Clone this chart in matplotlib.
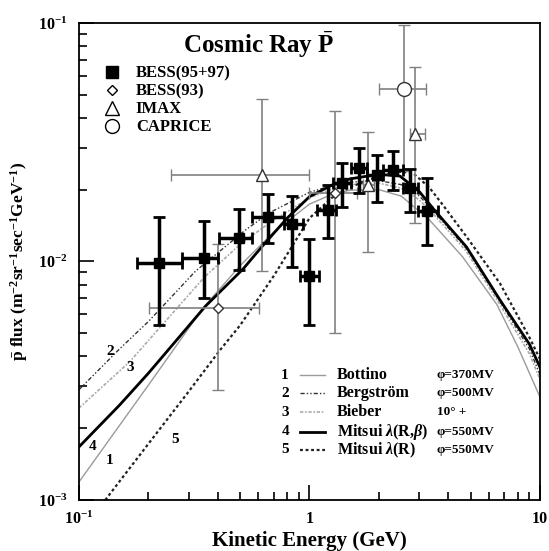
import numpy as np
import matplotlib
matplotlib.use("Agg")
import matplotlib.pyplot as plt
from matplotlib.lines import Line2D
from matplotlib.ticker import FixedLocator, FixedFormatter, LogLocator, NullFormatter

plt.rcParams["font.family"] = ["Liberation Serif", "DejaVu Serif"]
plt.rcParams["font.weight"] = "bold"
plt.rcParams["mathtext.fontset"] = "custom"
plt.rcParams["mathtext.rm"] = "Liberation Serif:bold"
plt.rcParams["mathtext.bf"] = "Liberation Serif:bold"
plt.rcParams["mathtext.it"] = "Liberation Serif:bold:italic"

# BESS(95+97)
bess_x = np.array([0.222, 0.35, 0.494, 0.663, 0.842, 1.0, 1.207, 1.379, 1.645, 1.957, 2.296, 2.73, 3.225])
bess_xlo = np.array([0.179, 0.28, 0.405, 0.561, 0.777, 0.912, 1.08, 1.27, 1.52, 1.77, 2.08, 2.55, 2.96])
bess_xhi = np.array([0.28, 0.40, 0.561, 0.777, 0.937, 1.10, 1.30, 1.52, 1.77, 2.08, 2.55, 2.96, 3.62])
bess_y = np.array([0.0099, 0.0103, 0.0126, 0.0154, 0.0144, 0.0087, 0.0165, 0.0214, 0.0246, 0.0231, 0.0242, 0.0203, 0.0163])
bess_ylo = np.array([0.0054, 0.0070, 0.0092, 0.0119, 0.0095, 0.0054, 0.0125, 0.0170, 0.0194, 0.0178, 0.0199, 0.0162, 0.0117])
bess_yhi = np.array([0.0153, 0.0148, 0.0166, 0.0191, 0.0189, 0.0124, 0.0209, 0.0260, 0.0298, 0.0280, 0.0290, 0.0245, 0.0223])

# BESS(93)
b93_x = np.array([0.402, 1.29])
b93_xlo = np.array([0.201, 1.0])
b93_xhi = np.array([0.604, 1.6])
b93_y = np.array([0.0064, 0.0194])
b93_ylo = np.array([0.0029, 0.0050])
b93_yhi = np.array([0.0118, 0.0429])

# IMAX
imax_x = np.array([0.623, 1.80, 2.87])
imax_xlo = np.array([0.25, 1.70, 2.73])
imax_xhi = np.array([1.0, 1.90, 3.17])
imax_y = np.array([0.0231, 0.0209, 0.0343])
imax_ylo = np.array([0.0091, 0.0110, 0.0145])
imax_yhi = np.array([0.048, 0.035, 0.0656])

# CAPRICE
cap_x = np.array([2.57])
cap_xlo = np.array([2.0])
cap_xhi = np.array([3.19])
cap_y = np.array([0.0528])
cap_ylo = np.array([0.024])
cap_yhi = np.array([0.098])

# model curves
c1_x = [0.1, 0.2, 0.346, 0.5, 0.7, 1.0, 1.25, 1.5, 2.0, 2.5, 3.3, 4.6, 6.5, 8.0, 10]
c1_y = [0.00119, 0.00303, 0.0064, 0.0096, 0.0133, 0.0174, 0.0191, 0.0199, 0.0200, 0.0188, 0.0150, 0.0105, 0.0066, 0.0044, 0.0027]
c2_x = [0.1, 0.15, 0.2, 0.32, 0.53, 0.67, 1.0, 1.25, 1.5, 2.0, 2.5, 3.0, 3.45, 4.8, 6.7, 9.0, 10]
c2_y = [0.0029, 0.0043, 0.0056, 0.0091, 0.0136, 0.0160, 0.0195, 0.0208, 0.0215, 0.0218, 0.0210, 0.0188, 0.0163, 0.0113, 0.0068, 0.0043, 0.00335]
c3_x = [0.1, 0.166, 0.35, 0.5, 0.67, 1.0, 1.25, 1.5, 2.0, 2.5, 3.0, 3.45, 4.8, 6.7, 9.0, 10]
c3_y = [0.00243, 0.0038, 0.0086, 0.0118, 0.0145, 0.0185, 0.0201, 0.0210, 0.0213, 0.0203, 0.0181, 0.0158, 0.0110, 0.0066, 0.0041, 0.0032]
c4_x = [0.1, 0.15, 0.2, 0.354, 0.515, 0.62, 0.8, 1.0, 1.25, 1.5, 2.0, 2.47, 3.0, 3.45, 4.8, 6.7, 9.0, 10]
c4_y = [0.00167, 0.0025, 0.0034, 0.0065, 0.0093, 0.0115, 0.0152, 0.0187, 0.0209, 0.0222, 0.0232, 0.0228, 0.0196, 0.0166, 0.0115, 0.0069, 0.0045, 0.0036]
c5_x = [0.13, 0.2, 0.3, 0.409, 0.5, 0.7, 1.0, 1.25, 1.5, 2.0, 2.5, 2.82, 3.3, 3.8, 4.8, 6.7, 9.0, 10]
c5_y = [0.001, 0.00172, 0.00286, 0.00425, 0.0054, 0.0087, 0.0152, 0.0185, 0.0205, 0.0228, 0.0238, 0.0234, 0.0205, 0.0172, 0.0127, 0.0081, 0.0048, 0.0039]

curve_names = ["Bottino", "Bergström", "Bieber", r"Mitsui $\lambda$(R,$\beta$)", r"Mitsui $\lambda$(R)"]
curve_phi = ["φ=370MV", "φ=500MV", "10° +", "φ=550MV", "φ=550MV"]
curve_styles = [
    dict(color="#9a9a9a", lw=1.0, ls="-"),
    dict(color="#333333", lw=1.0, ls=(0, (3, 1.5, 1, 1.5, 1, 1.5))),
    dict(color="#aaaaaa", lw=1.2, ls=(0, (2, 1, 1, 1))),
    dict(color="black", lw=2.0, ls="-"),
    dict(color="#222222", lw=1.6, ls=(0, (1.3, 1.2))),
]

fig = plt.figure(figsize=(5.49, 5.51), dpi=100)
ax = fig.add_axes([0.1439, 0.0926, 0.8397, 0.8657])
ax.set_xscale("log")
ax.set_yscale("log")
ax.set_xlim(0.1, 10)
ax.set_ylim(1e-3, 1e-1)

for (cx, cy), st in zip([(c1_x, c1_y), (c2_x, c2_y), (c3_x, c3_y), (c4_x, c4_y), (c5_x, c5_y)], curve_styles):
    ax.plot(cx, cy, zorder=2, **st)

def errs(v, lo, hi):
    return [v - lo, hi - v]

grey = "#808080"
ax.errorbar(b93_x, b93_y, xerr=errs(b93_x, b93_xlo, b93_xhi), yerr=errs(b93_y, b93_ylo, b93_yhi),
            fmt="D", ms=5, mfc="white", mec="#333333", mew=1, ecolor=grey, elinewidth=1.2,
            capsize=4, capthick=1.2, zorder=3)
ax.errorbar(imax_x, imax_y, xerr=errs(imax_x, imax_xlo, imax_xhi), yerr=errs(imax_y, imax_ylo, imax_yhi),
            fmt="^", ms=9, mfc="white", mec="#333333", mew=1, ecolor=grey, elinewidth=1.2,
            capsize=4, capthick=1.2, zorder=3)
ax.errorbar(cap_x, cap_y, xerr=errs(cap_x, cap_xlo, cap_xhi), yerr=errs(cap_y, cap_ylo, cap_yhi),
            fmt="o", ms=10, mfc="white", mec="#333333", mew=1, ecolor=grey, elinewidth=1.2,
            capsize=4, capthick=1.2, zorder=3)
ax.errorbar(bess_x, bess_y, xerr=errs(bess_x, bess_xlo, bess_xhi), yerr=errs(bess_y, bess_ylo, bess_yhi),
            fmt="s", ms=7, color="black", ecolor="black", elinewidth=2.5,
            capsize=4, capthick=2, zorder=4)

# marker legend (upper left)
handles = [
    Line2D([], [], ls="none", marker="s", ms=8, color="black"),
    Line2D([], [], ls="none", marker="D", ms=5, mfc="white", mec="black"),
    Line2D([], [], ls="none", marker="^", ms=10, mfc="white", mec="black"),
    Line2D([], [], ls="none", marker="o", ms=10, mfc="white", mec="black"),
]
ax.legend(handles, ["BESS(95+97)", "BESS(93)", "IMAX", "CAPRICE"], loc="upper left",
          bbox_to_anchor=(0.04, 0.925), frameon=False, handlelength=1.0,
          handletextpad=0.9, labelspacing=0.12, borderaxespad=0,
          prop=dict(family="Liberation Serif", weight="bold", size=12))

ax.text(0.39, 0.955, r"Cosmic Ray $\bar{\mathrm{P}}$", transform=ax.transAxes, ha="center", va="center",
        fontsize=18, fontweight="bold")

# curve legend (lower right)
rows_y = [0.262, 0.224, 0.184, 0.143, 0.105]
for i, (name, phi, st, ry) in enumerate(zip(curve_names, curve_phi, curve_styles, rows_y)):
    ax.text(0.447, ry, str(i + 1), transform=ax.transAxes, ha="center", va="center", fontsize=11)
    ax.plot([0.479, 0.534], [ry, ry], transform=ax.transAxes, **st)
    ax.text(0.559, ry, name, transform=ax.transAxes, ha="left", va="center", fontsize=11.5)
    ax.text(0.776, ry, phi, transform=ax.transAxes, ha="left", va="center", fontsize=9.5)

# curve number labels
num_pos = [(0.136, 0.00147), (0.136, 0.00418), (0.166, 0.00358), (0.115, 0.00167), (0.261, 0.00179)]
for i, (nx, ny) in enumerate(num_pos):
    ax.text(nx, ny, str(i + 1), ha="center", va="center", fontsize=11)

ax.xaxis.set_major_locator(FixedLocator([0.1, 1, 10]))
ax.xaxis.set_major_formatter(FixedFormatter(["10$^{-1}$", "1", "10"]))
ax.xaxis.set_minor_locator(LogLocator(base=10, subs=np.arange(2, 10)))
ax.xaxis.set_minor_formatter(NullFormatter())
ax.yaxis.set_major_locator(FixedLocator([1e-3, 1e-2, 1e-1]))
ax.yaxis.set_major_formatter(FixedFormatter(["10$^{-3}$", "10$^{-2}$", "10$^{-1}$"]))
ax.yaxis.set_minor_locator(LogLocator(base=10, subs=np.arange(2, 10)))
ax.yaxis.set_minor_formatter(NullFormatter())
ax.tick_params(which="both", direction="in", top=False, right=False, labelsize=11.5, width=1.2)
ax.tick_params(which="major", length=11, pad=8)
ax.tick_params(which="minor", length=6)
for s in ax.spines.values():
    s.set_linewidth(1.3)

ax.set_xlabel("Kinetic Energy (GeV)", fontsize=15, fontweight="bold", labelpad=2)
ax.set_ylabel(r"$\bar{\mathrm{p}}$ flux (m$^{-2}$sr$^{-1}$sec$^{-1}$GeV$^{-1}$)", fontsize=12.5,
              fontweight="bold", labelpad=6)

fig.savefig("out.png", dpi=100)
